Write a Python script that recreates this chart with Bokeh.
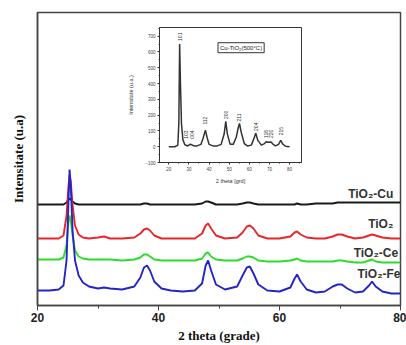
from bokeh.plotting import figure
from bokeh.models import Range1d, Label, FixedTicker, ColumnDataSource
from bokeh.layouts import column
from bokeh.embed import file_html
from bokeh.resources import INLINE
from bokeh.core.properties import value

# ---------------- main chart data ----------------
two_theta = [20, 22, 23.5, 24.3, 24.8, 25.1, 25.3, 25.5, 25.8, 26.2, 26.8, 27.5, 28.5, 30, 31, 32, 34, 36,
             37, 37.6, 38.1, 38.6, 39.3, 40.5, 42, 44, 46, 47.2, 47.8, 48.2, 48.7, 49.5, 51, 53, 53.9,
             54.6, 55.1, 55.7, 56.5, 58, 60, 61.8, 62.5, 62.9, 63.5, 64.5, 66, 67.5, 68.8, 69.6, 70.3,
             71.2, 72.5, 73.8, 74.8, 75.3, 75.9, 77, 78.5, 80]

tio2_cu = [101, 101, 101, 101, 103, 106, 107, 106, 104, 102, 101, 101, 101, 101, 101, 101, 101, 101,
           101, 102, 102, 101, 101, 101, 101, 101, 101, 102, 104, 104, 103, 101, 101, 101, 102,
           103, 103, 102, 101, 101, 101, 101, 101, 102, 101, 101, 102, 102, 102, 103, 103,
           103, 103, 103, 103, 103, 103, 103, 103, 103]

tio2 = [67, 67, 67, 70, 90, 118, 130, 124, 100, 80, 71, 68, 67, 68, 69, 67, 67, 68,
        72, 76, 77, 75, 70, 67, 67, 67, 67, 72, 80, 82, 77, 70, 67, 68, 73,
        79, 80, 77, 70, 67, 67, 69, 73, 74, 71, 68, 67, 67, 69, 71, 71,
        69, 67, 68, 70, 71, 70, 68, 67, 67]

tio2_ce = [46, 46, 46, 48, 60, 82, 90, 85, 70, 55, 49, 47, 46, 46, 46, 46, 45, 46,
           48, 51, 51, 49, 46, 45, 45, 45, 45, 47, 52, 53, 49, 46, 45, 45, 47,
           49, 49, 48, 45, 44, 44, 45, 46, 47, 45, 44, 44, 44, 44, 45, 45,
           44, 43, 43, 45, 46, 44, 43, 43, 43]

tio2_fe = [15, 15, 16, 20, 45, 100, 136, 120, 75, 45, 30, 23, 19, 17, 18, 17, 16, 19,
           28, 38, 40, 35, 24, 17, 15, 14, 15, 22, 40, 45, 35, 21, 16, 19, 30,
           38, 39, 32, 21, 15, 14, 18, 27, 31, 24, 16, 13, 14, 19, 21, 21,
           17, 13, 14, 20, 24, 19, 14, 12, 12]

series_names = ["TiO\u2082-Cu", "TiO\u2082", "TiO\u2082-Ce", "TiO\u2082-Fe"]
x_ticks = [20, 40, 60, 80]
x_minor = [30, 50, 70]

# ---------------- inset data ----------------
inset_theta = [20, 23, 24.5, 25.0, 25.4, 25.8, 26.3, 27, 28, 29.5, 30.5, 31.5, 32.5, 34, 36, 37.2, 38.2,
               39.0, 40, 42, 44, 46, 47.5, 48.3, 49.1, 50.5, 52, 53.5, 54.5, 55.1, 56, 57.5, 59, 61,
               62.5, 63.2, 64.2, 66, 67.5, 68.5, 69.6, 70.8, 71.8, 73, 74.5, 75.6, 76.5, 78, 80]
inset_counts = [0, 0, 10, 150, 650, 400, 150, 45, 12, 5, 15, 12, 5, 5, 15, 60, 105,
                60, 15, 5, 5, 15, 80, 160, 80, 15, 15, 60, 120, 148, 90, 20, 5, 10,
                60, 85, 40, 10, 20, 32, 28, 30, 15, 5, 15, 40, 18, 3, 0]
hkl_labels = ["101", "103", "004", "112", "200", "211", "204", "116", "220", "215"]
hkl_theta = [25.4, 28.8, 31.3, 38.2, 48.3, 55.1, 63.2, 68.5, 70.8, 75.6]
hkl_label_y = [670, 50, 50, 140, 175, 160, 100, 55, 55, 72]
inset_x_ticks = [20, 30, 40, 50, 60, 70, 80]
inset_x_minor = [25, 35, 45, 55, 65, 75, 85]
inset_y_ticks = [-100, 0, 100, 200, 300, 400, 500, 600, 700]
inset_y_minor = [-50, 50, 150, 250, 350, 450, 550, 650, 750]
inset_legend = "Cu-TiO\u2082(500\u00b0C)"

# ---------------- main figure ----------------
p = figure(width=406, height=345, output_backend="svg", toolbar_location=None,
           x_range=Range1d(20, 80), y_range=Range1d(0, 293),
           min_border_left=37, min_border_right=6, min_border_top=12, min_border_bottom=40)
p.grid.visible = False
p.outline_line_color = "#444444"
p.outline_line_width = 1.5
p.background_fill_color = "white"
p.border_fill_color = "white"

colors = ["#1a1a1a", "#e8262a", "#2bdc2b", "#2424c8"]
for ys, c in zip([tio2_cu, tio2, tio2_ce, tio2_fe], colors):
    p.line(two_theta, ys, line_color=c, line_width=1.9)

p.xaxis.ticker = FixedTicker(ticks=x_ticks, minor_ticks=x_minor)
p.xaxis.axis_label = "2 theta (grade)"
p.xaxis.axis_label_text_font = "Liberation Serif"
p.xaxis.axis_label_text_font_style = "bold"
p.xaxis.axis_label_text_font_size = "13px"
p.xaxis.axis_label_text_color = "#111111"
p.xaxis.axis_label_standoff = 3
p.xaxis.major_label_text_font = "Liberation Sans"
p.xaxis.major_label_text_font_style = "bold"
p.xaxis.major_label_text_font_size = "12px"
p.xaxis.major_label_text_color = "#222222"
p.xaxis.major_label_standoff = 2
p.xaxis.major_tick_in = 0
p.xaxis.major_tick_out = 5
p.xaxis.minor_tick_in = 0
p.xaxis.minor_tick_out = 3
p.xaxis.axis_line_color = "#444444"
p.xaxis.axis_line_width = 1.5
p.xaxis.major_tick_line_color = "#444444"
p.xaxis.minor_tick_line_color = "#444444"

p.yaxis.ticker = FixedTicker(ticks=[])
p.yaxis.axis_label = "Intensitate (u.a)"
p.yaxis.axis_label_text_font = "Liberation Serif"
p.yaxis.axis_label_text_font_style = "bold"
p.yaxis.axis_label_text_font_size = "13px"
p.yaxis.axis_label_text_color = "#111111"
p.yaxis.axis_label_standoff = 12
p.yaxis.axis_line_color = "#444444"
p.yaxis.axis_line_width = 1.5
p.yaxis.major_tick_line_color = None
p.yaxis.minor_tick_line_color = None

label_pos = [(78.8, 112), (78.8, 82), (79.6, 53), (80.0, 32)]
for name, (lx, ly) in zip(series_names, label_pos):
    p.add_layout(Label(x=lx, y=ly, text=name, text_align="right", text_baseline="alphabetic",
                       text_font="Liberation Sans", text_font_style="bold",
                       text_font_size="12px", text_color="#333333"))

# ---------------- inset figure ----------------
inset = figure(width=185, height=162, output_backend="svg", toolbar_location=None,
               x_range=Range1d(15.4, 85.9), y_range=Range1d(-100, 755),
               min_border_left=31, min_border_right=2, min_border_top=3, min_border_bottom=22)
inset.grid.visible = False
inset.outline_line_color = "#333333"
inset.outline_line_width = 1
inset.background_fill_color = "white"
inset.border_fill_color = "white"
inset.line(inset_theta, inset_counts, line_color="#333333", line_width=1.5)

src = ColumnDataSource(dict(x=hkl_theta, y=hkl_label_y, t=hkl_labels))
inset.text(x="x", y="y", text="t", source=src, angle=1.5708, text_align="left",
           text_baseline="middle", text_font=value("Liberation Sans"), text_font_size="5px",
           text_color="#333333")

inset.add_layout(Label(x=55.9, y=627, text=inset_legend, text_align="center", text_baseline="middle",
                       text_font="Liberation Sans", text_font_size="6px", text_color="#222222",
                       border_line_color="#333333", border_line_width=1, background_fill_color="white",
                       padding=2))

inset.xaxis.ticker = FixedTicker(ticks=inset_x_ticks, minor_ticks=inset_x_minor)
inset.yaxis.ticker = FixedTicker(ticks=inset_y_ticks, minor_ticks=inset_y_minor)
inset.xaxis.axis_label = "2 theta [grd]"
inset.yaxis.axis_label = "Intensitate (u.a.)"
for ax in (inset.xaxis, inset.yaxis):
    ax.axis_label_text_font = "Liberation Sans"
    ax.axis_label_text_font_style = "normal"
    ax.axis_label_text_font_size = "5.5px"
    ax.axis_label_text_color = "#333333"
    ax.axis_label_standoff = 4
    ax.major_label_text_font = "Liberation Sans"
    ax.major_label_text_font_size = "4.5px"
    ax.major_label_text_color = "#444444"
    ax.major_label_standoff = 2
    ax.major_tick_in = 0
    ax.major_tick_out = 2
    ax.minor_tick_in = 0
    ax.minor_tick_out = 1
    ax.axis_line_color = "#333333"
    ax.major_tick_line_color = "#333333"
    ax.minor_tick_line_color = "#333333"
inset.yaxis.axis_label_standoff = 8

inset.styles = {"position": "absolute", "left": "122px", "top": "24px", "z-index": "10"}

layout = column(p, inset)
html = file_html(layout, INLINE)
open("out.html", "w").write(html)
